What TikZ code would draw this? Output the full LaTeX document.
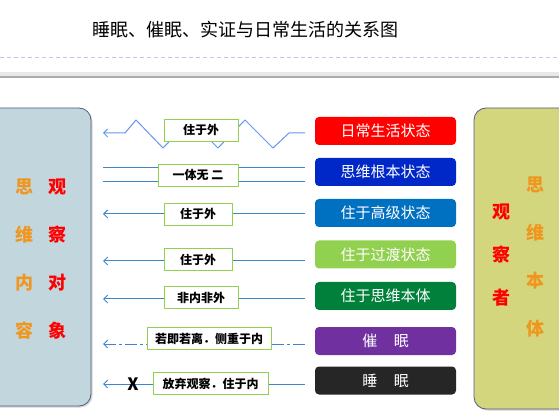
\documentclass[tikz,border=0pt]{standalone}
\usepackage{fontspec}
\setmainfont{Noto Sans CJK SC}
\usetikzlibrary{arrows.meta,shadows}

\definecolor{dailyred}{RGB}{255,0,0}
\definecolor{rootblue}{RGB}{0,40,200}
\definecolor{highblue}{RGB}{0,112,192}
\definecolor{transgreen}{RGB}{146,208,80}
\definecolor{bodygreen}{RGB}{0,128,58}
\definecolor{hypnopurple}{RGB}{112,48,160}
\definecolor{sleepblack}{RGB}{38,38,38}
\definecolor{flowblue}{RGB}{61,133,205}
\definecolor{zigblue}{RGB}{100,150,235}
\definecolor{tagframe}{RGB}{146,208,80}
\definecolor{leftpanel}{RGB}{194,214,221}
\definecolor{rightpanel}{RGB}{211,214,124}
\definecolor{panelframe}{RGB}{80,95,125}
\definecolor{thinkorange}{RGB}{240,150,30}

\begin{document}
\begin{tikzpicture}[
  x=1pt, y=-1pt,
  state/.style={rectangle, rounded corners=4pt, minimum width=141pt, minimum height=28pt,
                inner sep=0pt, text=white, font=\fontsize{15}{15}\selectfont},
  tag/.style={rectangle, draw=tagframe, line width=0.9pt, fill=white, minimum height=22pt,
              inner sep=0pt, font=\fontsize{12}{12}\selectfont\bfseries},
  flow/.style={draw=flowblue, line width=1pt, -{Straight Barb[length=4pt,width=8pt]}},
  panel/.style={rounded corners=12pt, draw=panelframe, line width=0.8pt,
                drop shadow={shadow xshift=1.5pt, shadow yshift=-1.5pt, opacity=0.35}},
  colchar/.style={font=\fontsize{18}{18}\selectfont\bfseries},
]
\useasboundingbox (0,0) rectangle (559,411);
\clip (0,0) rectangle (559,411);

% title and rules
\node[font=\fontsize{18}{18}\selectfont] (title) at (245,30) {睡眠、催眠、实证与日常生活的关系图};
\draw[draw=gray!45!blue!30, line width=0.8pt, dash pattern=on 4pt off 3pt] (0,57) -- (559,57);
\fill[gray!18] (0,72) rectangle (559,76);
\draw[gray!65, line width=2pt] (0,77) -- (559,77);

% side panels
\draw[panel, fill=leftpanel] (-20,108) rectangle (91,406);
\draw[panel, fill=rightpanel] (474,108) rectangle (580,409);

\foreach \c [count=\i from 0] in {思,维,内,容}
  \node[colchar, text=thinkorange] (think\i) at (24,187+48*\i) {\c};
\foreach \c [count=\i from 0] in {观,察,对,象}
  \node[colchar, text=dailyred] (obj\i) at (57,187+48*\i) {\c};
\foreach \c [count=\i from 0] in {观,察,者}
  \node[colchar, text=dailyred] (seer\i) at (501,212+43*\i) {\c};
\foreach \c [count=\i from 0] in {思,维,本,体}
  \node[colchar, text=thinkorange] (body\i) at (535,185+48*\i) {\c};

% states
\node[state, fill=dailyred]    (s1) at (385.5,131)   {日常生活状态};
\node[state, fill=rootblue]    (s2) at (385.5,172)   {思维根本状态};
\node[state, fill=highblue]    (s3) at (385.5,213)   {住于高级状态};
\node[state, fill=transgreen]  (s4) at (385.5,254.5) {住于过渡状态};
\node[state, fill=bodygreen]   (s5) at (385.5,296)   {住于思维本体};
\node[state, fill=hypnopurple] (s6) at (385.5,341)   {催\hspace{1.1em}眠};
\node[state, fill=sleepblack]  (s7) at (385.5,380.5) {睡\hspace{1.1em}眠};

% line ends
\coordinate (r1) at (305,133);   \coordinate (l1) at (103,133);
\coordinate (r2a) at (305,168);  \coordinate (l2a) at (103,168);
\coordinate (r2b) at (305,182);  \coordinate (l2b) at (103,182);
\coordinate (r3) at (305,214);   \coordinate (l3) at (103,214);
\coordinate (r4) at (305,261);   \coordinate (l4) at (103,261);
\coordinate (r5) at (305,299);   \coordinate (l5) at (103,299);
\coordinate (r6) at (305,344);   \coordinate (l6) at (103,344);
\coordinate (r7) at (305,384);   \coordinate (l7) at (103,384);

\draw[flow, draw=zigblue] (r1) -- (289,133) -- (273,148) -- (245,120) -- (218,148)
  -- (190,120) -- (163,148) -- (136,120) -- (125,133) -- (l1);
\draw[flowblue, line width=1pt] (r2a) -- (l2a);
\draw[flowblue, line width=1pt] (r2b) -- (l2b);
\draw[flow] (r3) -- (l3);
\draw[flow] (r4) -- (l4);
\draw[flow] (r5) -- (l5);
\draw[flow, dash pattern=on 12pt off 3pt on 3pt off 3pt] (r6) -- (l6);
\draw[flow] (r7) -- (l7);

% labels
\node[tag, minimum width=74pt]  (t1) at (201,130)   {住于外};
\node[tag, minimum width=80pt]  (t2) at (198,175)   {一体无 二};
\node[tag, minimum width=68pt]  (t3) at (198,214)   {住于外};
\node[tag, minimum width=68pt]  (t4) at (198,259.5) {住于外};
\node[tag, minimum width=74pt]  (t5) at (201,297.5) {非内非外};
\node[tag, minimum width=124pt] (t6) at (209,338.5) {若即若离．侧重于内};
\node[tag, minimum width=115pt] (t7) at (210.5,383.5) {放弃观察．住于内};
\node[font=\fontsize{17}{17}\selectfont\bfseries] (x7) at (133,384) {X};

\end{tikzpicture}
\end{document}
